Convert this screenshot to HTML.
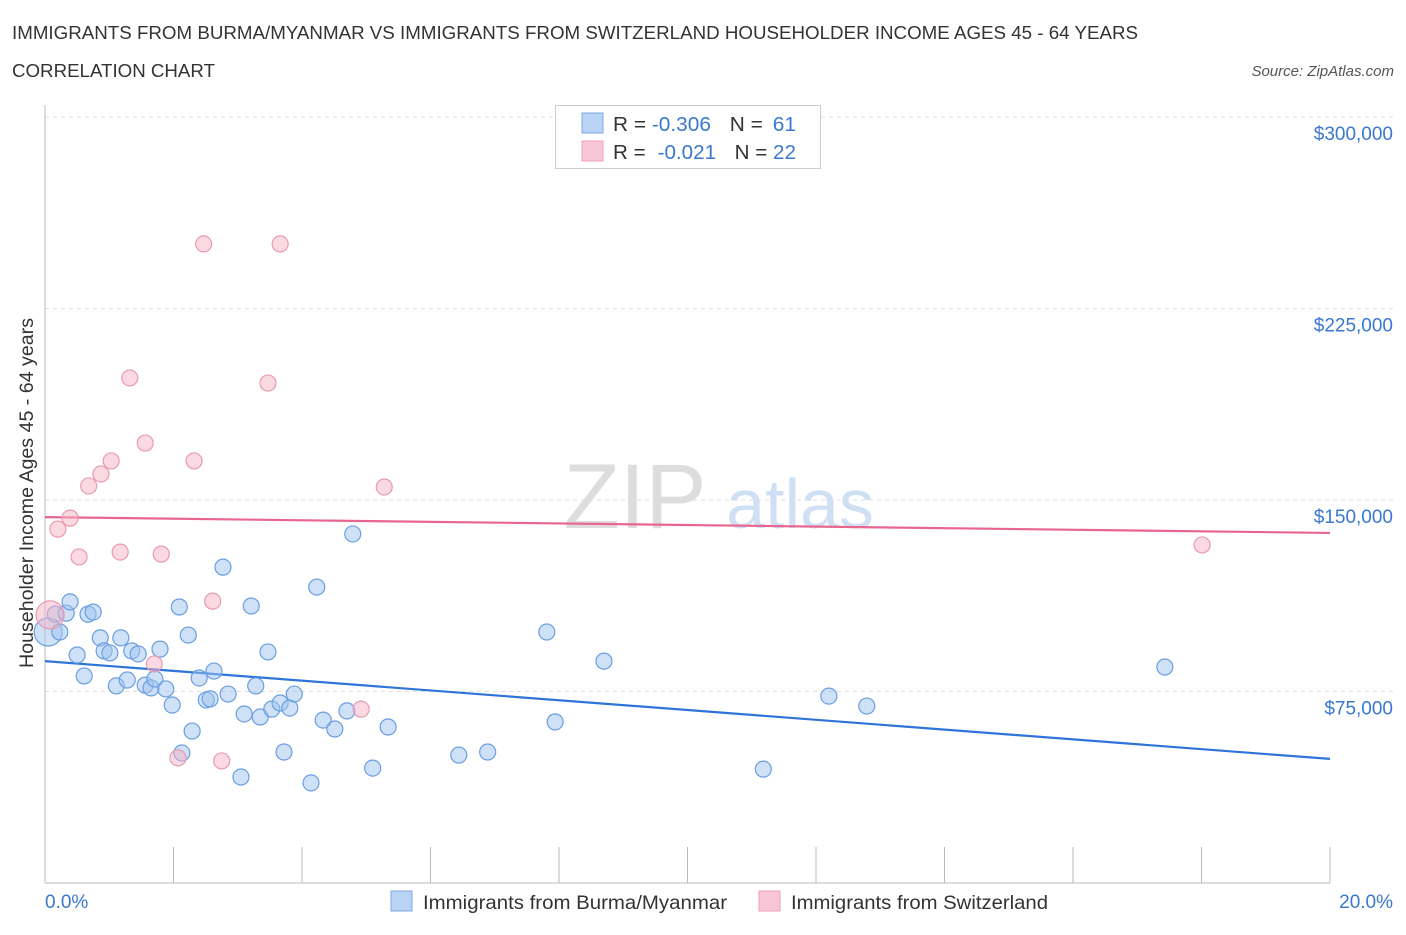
<!DOCTYPE html>
<html><head><meta charset="utf-8"><style>
body{margin:0;background:#fff;font-family:"Liberation Sans",sans-serif;}
svg text{font-family:"Liberation Sans",sans-serif;}
</style></head><body>
<svg id="c" width="1406" height="930" xmlns="http://www.w3.org/2000/svg">
<text x="12" y="39" font-size="18" fill="#333" textLength="1126" lengthAdjust="spacingAndGlyphs">IMMIGRANTS FROM BURMA/MYANMAR VS IMMIGRANTS FROM SWITZERLAND HOUSEHOLDER INCOME AGES 45 - 64 YEARS</text>
<text x="12" y="77" font-size="18" fill="#333" textLength="203" lengthAdjust="spacingAndGlyphs">CORRELATION CHART</text>
<text x="1394" y="76" font-size="15" fill="#555" font-style="italic" text-anchor="end">Source: ZipAtlas.com</text>
<text x="635" y="528" font-size="92" fill="#ddd" font-family="Liberation Serif" text-anchor="middle">ZIP</text>
<text x="800" y="528" font-size="70" fill="#cfe0f4" text-anchor="middle">atlas</text>
<g id="grid"></g><g id="ticks"></g><g id="lines"></g><g id="pts"></g>
<text x="33" y="493" font-size="19" fill="#333" text-anchor="middle" textLength="350" lengthAdjust="spacingAndGlyphs" transform="rotate(-90 33 493)">Householder Income Ages 45 - 64 years</text>
<text x="45" y="908" font-size="19" fill="#3a78d0">0.0%</text>
<text x="1393" y="908" font-size="19" fill="#3a78d0" text-anchor="end">20.0%</text>
<g>
<rect x="555.5" y="105.5" width="265" height="63" fill="#fff" stroke="#ccc"/>
<rect x="582" y="113" width="21" height="20" fill="#b9d3f5" stroke="#7eaae6"/>
<rect x="582" y="141" width="21" height="20" fill="#f9c6d5" stroke="#eea0b8"/>
<text x="613" y="131" font-size="20" fill="#333" textLength="183" lengthAdjust="spacingAndGlyphs">R = <tspan fill="#3a78d0">-0.306</tspan><tspan dx="18">N = </tspan><tspan fill="#3a78d0" dx="4">61</tspan></text>
<text x="613" y="159" font-size="20" fill="#333" textLength="183" lengthAdjust="spacingAndGlyphs">R = <tspan fill="#3a78d0" dx="6">-0.021</tspan><tspan dx="18">N = </tspan><tspan fill="#3a78d0">22</tspan></text>
</g>
<g>
<rect x="391" y="891" width="21" height="20" fill="#b9d3f5" stroke="#7eaae6"/>
<text x="423" y="909" font-size="19.5" fill="#333" textLength="304" lengthAdjust="spacingAndGlyphs">Immigrants from Burma/Myanmar</text>
<rect x="759" y="891" width="21" height="20" fill="#f9c6d5" stroke="#eea0b8"/>
<text x="791" y="909" font-size="19.5" fill="#333" textLength="257" lengthAdjust="spacingAndGlyphs">Immigrants from Switzerland</text>
</g>
</svg>
<script>
const yTicks=[75,150,225,300];
const yTickLabels=["$75,000","$150,000","$225,000","$300,000"];
const xTicks=[0,2,4,6,8,10,12,14,16,18,20];
const blueX=[0.05,0.16,0.23,0.33,0.39,0.50,0.61,0.67,0.75,0.86,0.92,1.01,1.11,1.18,1.28,1.35,1.45,1.56,1.65,1.71,1.79,1.88,1.98,2.09,2.13,2.23,2.29,2.40,2.51,2.57,2.63,2.77,2.85,3.05,3.10,3.21,3.28,3.35,3.47,3.53,3.66,3.72,3.81,3.88,4.14,4.23,4.33,4.51,4.70,4.79,5.10,5.34,6.44,6.89,7.81,7.94,8.70,11.18,12.20,12.79,17.43];
const blueY=[98.3,105.3,98.3,105.7,110.1,89.3,81.1,105.3,106.1,96.0,90.9,90.1,77.2,96.0,79.5,90.9,89.7,77.5,76.4,79.9,91.6,76.0,69.7,108.1,50.9,97.1,59.5,80.3,71.7,72.1,83.0,123.7,74.0,41.5,66.2,108.5,77.2,65.0,90.5,68.1,70.5,51.3,68.5,74.0,39.2,115.9,63.8,60.3,67.4,136.7,45.0,61.1,50.1,51.3,98.3,63.1,86.9,44.6,73.2,69.3,84.6];
const pinkX=[0.08,0.20,0.39,0.53,0.68,0.87,1.03,1.17,1.32,1.56,1.70,1.81,2.07,2.32,2.47,2.61,2.75,3.47,3.66,4.92,5.28,18.01];
const pinkY=[105.0,138.6,142.9,127.7,155.5,160.2,165.3,129.6,197.8,172.3,85.8,128.8,49.0,165.3,250.3,110.4,47.8,195.8,250.3,68.1,155.1,132.4];
const blueTrend=[86.9,48.6];
const pinkTrend=[143.3,137.1];
const NS="http://www.w3.org/2000/svg";
const X=v=>45+v/20*1285;
const Y=v=>883-v/75*191.5;
function mk(tag,attrs,parent){const e=document.createElementNS(NS,tag);for(const k in attrs)e.setAttribute(k,attrs[k]);document.getElementById(parent).appendChild(e);return e;}
const ax=mk('line',{x1:45,y1:105,x2:45,y2:883,stroke:'#bbb'},'ticks');


const bx=mk('line',{x1:45,y1:883,x2:1330,y2:883,stroke:'#bbb'},'ticks');


yTicks.forEach((t,i)=>{
 const g=mk('line',{x1:45,x2:1395,y1:Y(t),y2:Y(t),stroke:'#ddd','stroke-dasharray':'4 4'},'grid');
 
 
 const l=mk('text',{x:1393,y:Y(t)+23,'font-size':19,fill:'#3a78d0','text-anchor':'end'},'grid');
 l.textContent=yTickLabels[i];
 
 
});
xTicks.forEach(t=>{
 const l=mk('line',{x1:X(t),x2:X(t),y1:847,y2:883,stroke:'#bbb'},'ticks');
 
 
});
function pts(xs,ys,fill,stroke,name){xs.forEach((x,i)=>{
 const c=mk('circle',{cx:X(x),cy:Y(ys[i]),r:i===0?14:8,fill:fill,stroke:stroke,'stroke-width':1.2},'pts');
 
 
});}
pts(blueX,blueY,'rgba(160,196,240,0.5)','#6a9ee0','burma-point');
pts(pinkX,pinkY,'rgba(245,180,200,0.5)','#e89ab0','switzerland-point');
const l1=mk('line',{x1:X(0),y1:Y(blueTrend[0]),x2:X(20),y2:Y(blueTrend[1]),stroke:'#2f74d8','stroke-width':2.2},'lines');


const l2=mk('line',{x1:X(0),y1:Y(pinkTrend[0]),x2:X(20),y2:Y(pinkTrend[1]),stroke:'#e8668e','stroke-width':2.2},'lines');


</script>
</body></html>
